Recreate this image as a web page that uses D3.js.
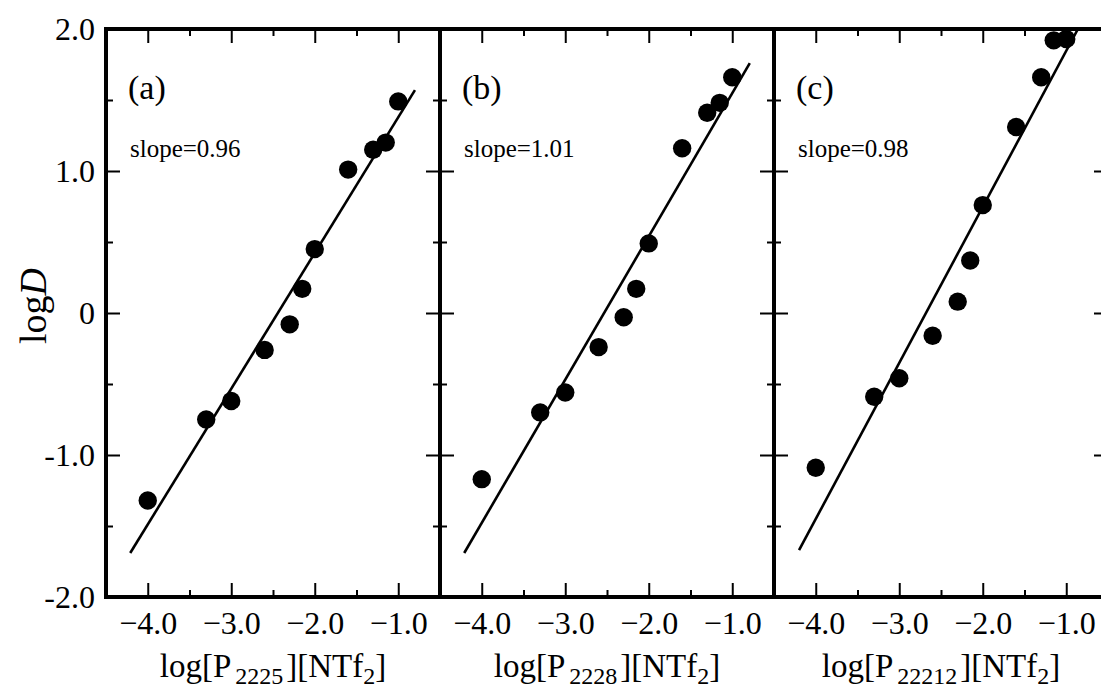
<!DOCTYPE html>
<html>
<head>
<meta charset="utf-8">
<script src="https://cdn.jsdelivr.net/npm/d3@7"></script>
<style>
  body { margin: 0; background: #fff; }
  text { font-family: "Liberation Serif", "Times New Roman", Times, serif; fill: #000; }
</style>
</head>
<body>
<svg id="chart" width="1101" height="690"></svg>
<script>
// log D vs log concentration, three ionic liquids

const logConc = [-4.0, -3.3, -3.0, -2.6, -2.3, -2.15, -2.0, -1.6, -1.3, -1.15, -1.0];

const logDa = [-1.32, -0.75, -0.62, -0.26, -0.08, 0.17, 0.45, 1.01, 1.15, 1.20, 1.49];
const logDb = [-1.17, -0.70, -0.56, -0.24, -0.03, 0.17, 0.49, 1.16, 1.41, 1.48, 1.66];
const logDc = [-1.09, -0.59, -0.46, -0.16, 0.08, 0.37, 0.76, 1.31, 1.66, 1.92, 1.93];

// fitted lines, end points
const fitA = [[-4.21, -1.69], [-0.80, 1.57]];
const fitB = [[-4.21, -1.69], [-0.79, 1.76]];
const fitC = [[-4.20, -1.67], [-0.86, 2.00]];

const panelTags = ['(a)', '(b)', '(c)'];
const slopeLabels = ['slope=0.96', 'slope=1.01', 'slope=0.98'];
const cations = ['2225', '2228', '22212'];

const xMajor = [-4.0, -3.0, -2.0, -1.0];
const xMinor = [-3.5, -2.5, -1.5];
const yMajor = [-2.0, -1.0, 0, 1.0, 2.0];
const yMinor = [-1.5, -0.5, 0.5, 1.5];
const yTickText = ['-2.0', '-1.0', '0', '1.0', '2.0'];

const panels = [
  { y: logDa, fit: fitA },
  { y: logDb, fit: fitB },
  { y: logDc, fit: fitC }
];

const svg = d3.select('#chart');

const left0 = 106, plotTop = 29, pw = 334, ph = 568;
const serif = '"Liberation Serif", "Times New Roman", Times, serif';

const y = d3.scaleLinear()
  .domain([-2, 2])
  .range([plotTop + ph, plotTop]);

panels.forEach((p, i) => {
  const x0 = left0 + i * pw;
  const x = d3.scaleLinear()
    .domain([-4.5, -0.5])
    .range([x0, x0 + pw]);

  const g = svg.append('g').attr('class', 'panel');

  const clipId = 'clip' + i;
  svg.append('clipPath').attr('id', clipId)
    .append('rect')
      .attr('x', x0).attr('y', plotTop)
      .attr('width', pw).attr('height', ph);

  // ticks, all pointing inward
  const tickStyle = sel => {
    sel.select('.domain').remove();
    sel.attr('font-family', serif);
    sel.selectAll('line').attr('stroke', '#000').attr('stroke-width', 2);
  };

  g.append('g')
    .attr('transform', `translate(0,${plotTop + ph})`)
    .call(d3.axisBottom(x).tickValues(xMajor).tickSize(-14).tickPadding(14)
      .tickFormat(d3.format('.1f')))
    .call(tickStyle)
    .selectAll('text')
      .attr('font-size', 32);

  g.append('g')
    .attr('transform', `translate(0,${plotTop + ph})`)
    .call(d3.axisBottom(x).tickValues(xMinor).tickSize(-7).tickFormat(''))
    .call(tickStyle);

  g.append('g')
    .attr('transform', `translate(0,${plotTop})`)
    .call(d3.axisTop(x).tickValues(xMajor).tickSize(-14).tickFormat(''))
    .call(tickStyle);

  g.append('g')
    .attr('transform', `translate(0,${plotTop})`)
    .call(d3.axisTop(x).tickValues(xMinor).tickSize(-7).tickFormat(''))
    .call(tickStyle);

  const leftAxis = d3.axisLeft(y).tickValues(yMajor).tickSize(-14).tickPadding(11)
    .tickFormat((d, k) => i === 0 ? yTickText[k] : '');
  g.append('g')
    .attr('transform', `translate(${x0},0)`)
    .call(leftAxis)
    .call(tickStyle)
    .selectAll('text')
      .attr('font-size', 32);

  g.append('g')
    .attr('transform', `translate(${x0},0)`)
    .call(d3.axisLeft(y).tickValues(yMinor).tickSize(-7).tickFormat(''))
    .call(tickStyle);

  g.append('g')
    .attr('transform', `translate(${x0 + pw},0)`)
    .call(d3.axisRight(y).tickValues(yMajor).tickSize(-14).tickFormat(''))
    .call(tickStyle);

  g.append('g')
    .attr('transform', `translate(${x0 + pw},0)`)
    .call(d3.axisRight(y).tickValues(yMinor).tickSize(-7).tickFormat(''))
    .call(tickStyle);

  // fit line
  g.append('path')
    .datum(p.fit)
    .attr('clip-path', `url(#${clipId})`)
    .attr('fill', 'none')
    .attr('stroke', '#000')
    .attr('stroke-width', 2.6)
    .attr('d', d3.line().x(d => x(d[0])).y(d => y(d[1])));

  // data points
  g.selectAll('circle')
    .data(logConc.map((c, k) => [c, p.y[k]]))
    .enter()
    .append('circle')
      .attr('cx', d => x(d[0]))
      .attr('cy', d => y(d[1]))
      .attr('r', 9.2)
      .attr('fill', '#000');

  // frame
  g.append('rect')
    .attr('x', x0).attr('y', plotTop)
    .attr('width', pw).attr('height', ph)
    .attr('fill', 'none')
    .attr('stroke', '#000')
    .attr('stroke-width', 4);

  g.append('text')
    .attr('x', x0 + 22).attr('y', 99)
    .attr('font-size', 34)
    .text(panelTags[i]);

  g.append('text')
    .attr('x', x0 + 24).attr('y', 157)
    .attr('font-size', 25)
    .text(slopeLabels[i]);

  // x axis title with subscripts
  const t = g.append('text')
    .attr('x', x0 + pw / 2).attr('y', 677)
    .attr('text-anchor', 'middle')
    .attr('font-size', 33);
  t.append('tspan').text('log[P');
  t.append('tspan').attr('font-size', 24).attr('dx', 4).attr('dy', 7).text(cations[i]);
  t.append('tspan').attr('dx', 3).attr('dy', -7).text('][NTf');
  t.append('tspan').attr('font-size', 24).attr('dy', 7).text('2');
  t.append('tspan').attr('dy', -7).text(']');
});

// y axis title
const yt = svg.append('text')
  .attr('transform', 'translate(46,306) rotate(-90)')
  .attr('text-anchor', 'middle')
  .attr('font-size', 38);
yt.append('tspan').text('log');
yt.append('tspan').attr('font-style', 'italic').text('D');
</script>
</body>
</html>
